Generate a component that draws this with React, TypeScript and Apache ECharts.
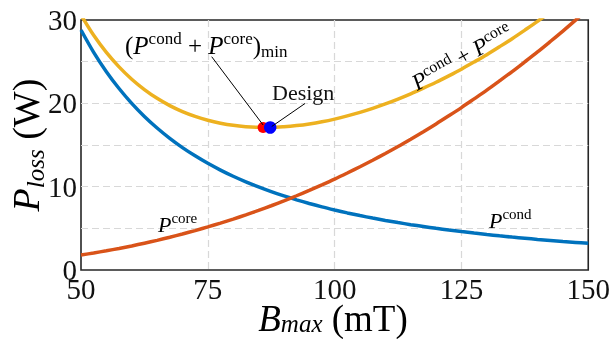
import React, { useEffect, useRef } from 'react';
import * as echarts from 'echarts';

// B_max (mT) sample positions
const bField = [
  50, 52.5, 55, 57.5, 60, 62.5, 65, 67.5, 70, 72.5, 75, 77.5, 80, 82.5, 85, 87.5, 90, 92.5, 95, 97.5,
  100, 102.5, 105, 107.5, 110, 112.5, 115, 117.5, 120, 122.5, 125, 127.5, 130, 132.5, 135, 137.5, 140, 142.5, 145, 147.5, 150,
];
// Conduction loss (W)
const pCond = [
  28.8, 26.12, 23.8, 21.78, 20.0, 18.43, 17.04, 15.8, 14.69, 13.7, 12.8, 11.99, 11.25, 10.58, 9.97, 9.4, 8.89, 8.42, 7.98, 7.57,
  7.2, 6.85, 6.53, 6.23, 5.95, 5.69, 5.44, 5.22, 5.0, 4.8, 4.61, 4.43, 4.26, 4.1, 3.95, 3.81, 3.67, 3.55, 3.42, 3.31, 3.2,
];
// Core loss (W)
const pCore = [
  1.8, 2.04, 2.31, 2.59, 2.89, 3.22, 3.56, 3.93, 4.32, 4.73, 5.17, 5.63, 6.11, 6.62, 7.15, 7.71, 8.3, 8.91, 9.55, 10.22,
  10.91, 11.64, 12.39, 13.17, 13.98, 14.82, 15.7, 16.6, 17.53, 18.5, 19.49, 20.53, 21.58, 22.69, 23.81, 24.98, 26.17, 27.41, 28.67, 29.98, 31.32,
];
// Total loss (W)
const pSum = [
  30.6, 28.16, 26.11, 24.37, 22.89, 21.65, 20.6, 19.73, 19.01, 18.43, 17.97, 17.62, 17.36, 17.2, 17.12, 17.11, 17.19, 17.33, 17.53, 17.79,
  18.11, 18.49, 18.92, 19.4, 19.93, 20.51, 21.14, 21.82, 22.53, 23.3, 24.1, 24.96, 25.84, 26.79, 27.76, 28.79, 29.84, 30.96, 32.09, 33.29, 34.52,
];
// Special points [B, P]
const minPoint = [85.9, 17.1];
const designPoint = [87.3, 17.1];
const xTickStep = 25;
const yTickStep = 5;
const yLabelStep = 10;

const SERIF = '"Liberation Serif", "DejaVu Serif", serif';
const INK = '#111111';

function richStyles(main: number, sup: number, supLH: number, subLH: number, lh: number) {
  return {
    r: { fontFamily: SERIF, fontSize: main, color: INK, lineHeight: lh },
    m: { fontFamily: SERIF, fontSize: main, fontStyle: 'italic', color: INK, lineHeight: lh },
    s: { fontFamily: SERIF, fontSize: sup, color: INK, verticalAlign: 'top', lineHeight: supLH },
    b: { fontFamily: SERIF, fontSize: sup, color: INK, verticalAlign: 'bottom', lineHeight: subLH },
    bi: { fontFamily: SERIF, fontSize: sup, fontStyle: 'italic', color: INK, verticalAlign: 'bottom', lineHeight: subLH },
  };
}

export default function App() {
  const ref = useRef<HTMLDivElement>(null);
  useEffect(() => {
    document.body.style.margin = '0';
    const chart = echarts.init(ref.current!, null, { renderer: 'svg' });
    const pairs = (ys: number[]) => bField.map((b, i) => [b, ys[i]]);
    const lineSeries = (name: string, ys: number[], color: string) => ({
      name,
      type: 'line',
      data: pairs(ys),
      smooth: 0.3,
      showSymbol: false,
      clip: true,
      lineStyle: { color, width: 3.5 },
      emphasis: { disabled: true },
    });
    const split = { show: true, showMinLine: false, showMaxLine: false, lineStyle: { color: '#d8d8d8', type: [7, 4], width: 1.2 } };
    chart.setOption({
      animation: false,
      grid: { left: 81, right: 24, top: 20, bottom: 69, show: true, borderColor: '#262626', borderWidth: 1.6, backgroundColor: 'transparent' },
      xAxis: {
        type: 'value', min: 50, max: 150, interval: xTickStep,
        axisLine: { show: false }, axisTick: { show: false },
        splitLine: split,
        axisLabel: { fontFamily: SERIF, fontSize: 29, color: INK, margin: 4 },
      },
      yAxis: {
        type: 'value', min: 0, max: 30, interval: yTickStep,
        axisLine: { show: false }, axisTick: { show: false },
        splitLine: split,
        axisLabel: {
          fontFamily: SERIF, fontSize: 29, color: INK, margin: 4,
          formatter: (v: number) => (v % yLabelStep === 0 ? String(v) : ''),
        },
      },
      series: [
        lineSeries('Pcond', pCond, '#0072BD'),
        lineSeries('Pcore', pCore, '#D95319'),
        lineSeries('Psum', pSum, '#EDB120'),
        { type: 'scatter', data: [minPoint], symbolSize: 11, itemStyle: { color: '#ff0000', opacity: 1 }, z: 5 },
        { type: 'scatter', data: [designPoint], symbolSize: 12.5, itemStyle: { color: '#0000ff', opacity: 1 }, z: 6 },
      ],
    });

    const px = (p: number[]) => chart.convertToPixel({ gridIndex: 0 }, p) as number[];
    const minPx = px(minPoint);
    const desPx = px(designPoint);

    chart.setOption({
      graphic: [
        // x axis title
        {
          type: 'text', x: 333, y: 318, z: 10,
          style: {
            text: '{m|B}{bi|max}{r| (mT)}', align: 'center', verticalAlign: 'middle',
            rich: richStyles(37, 25, 14, 10, 36),
          },
        },
        // y axis title
        {
          type: 'text', x: 26, y: 145, rotation: Math.PI / 2, z: 10,
          style: {
            text: '{m|P}{bi|loss}{r| (W)}', align: 'center', verticalAlign: 'middle',
            rich: richStyles(38, 25, 14, 22, 44),
          },
        },
        // minimum annotation
        {
          type: 'text', x: 125, y: 45, z: 10,
          style: {
            text: '{r|(}{m|P}{s|cond}{r| + }{m|P}{s|core}{r|)}{b|min}', align: 'left', verticalAlign: 'middle',
            rich: richStyles(25, 17, 14, 20, 30),
          },
        },
        {
          type: 'line', z: 10, silent: true,
          shape: { x1: 211.7, y1: 56.7, x2: minPx[0], y2: minPx[1] - 2.5 },
          style: { stroke: '#000', lineWidth: 1 },
        },
        // design annotation
        {
          type: 'text', x: 272, y: 92.5, z: 10,
          style: { text: 'Design', align: 'left', verticalAlign: 'middle', fontFamily: SERIF, fontSize: 22, fill: INK },
        },
        {
          type: 'line', z: 10, silent: true,
          shape: { x1: 305, y1: 103.5, x2: desPx[0] + 1.5, y2: desPx[1] - 1 },
          style: { stroke: '#000', lineWidth: 1 },
        },
        // curve labels
        {
          type: 'text', x: 462, y: 57, rotation: (29.5 * Math.PI) / 180, z: 10,
          style: {
            text: '{m|P}{s|cond}{r| + }{m|P}{s|core}', align: 'center', verticalAlign: 'middle',
            rich: richStyles(23, 16, 16, 20, 28),
          },
        },
        {
          type: 'text', x: 158, y: 224.5, z: 10,
          style: {
            text: '{m|P}{s|core}', align: 'left', verticalAlign: 'middle',
            rich: richStyles(22, 15, 17, 20, 28),
          },
        },
        {
          type: 'text', x: 489, y: 220.5, z: 10,
          style: {
            text: '{m|P}{s|cond}', align: 'left', verticalAlign: 'middle',
            rich: richStyles(22, 15, 17, 20, 28),
          },
        },
      ],
    });

    return () => chart.dispose();
  }, []);
  return <div ref={ref} style={{ position: 'fixed', left: 0, top: 0, width: 613, height: 339 }} />;
}
